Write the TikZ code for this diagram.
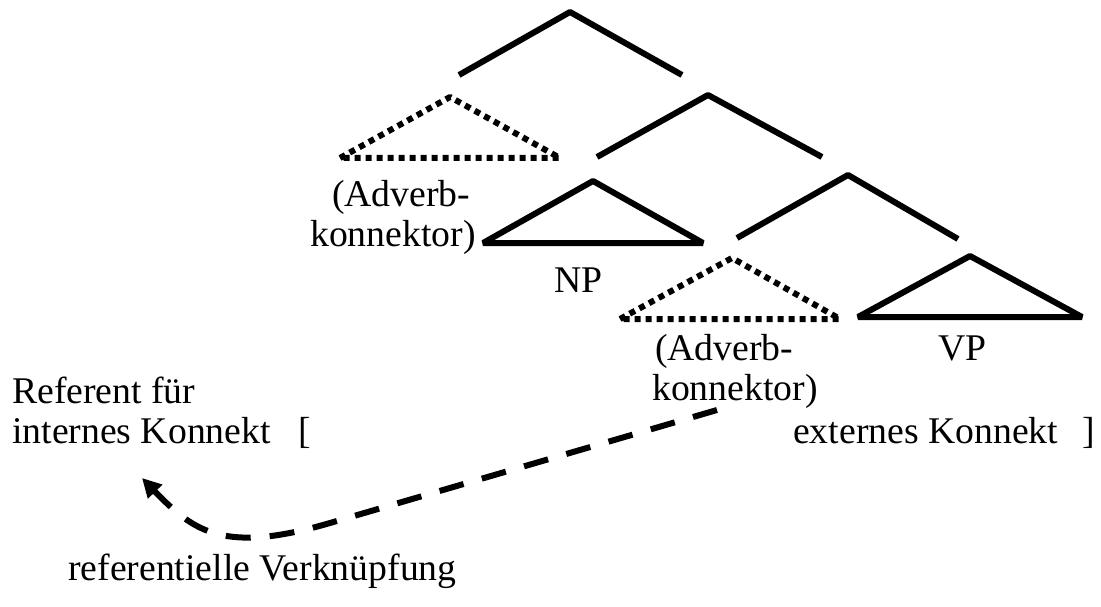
\documentclass[tikz,border=0pt]{standalone}
\usepackage{fontspec}
\setmainfont{Liberation Serif}
\usetikzlibrary{arrows.meta}

\begin{document}
\begin{tikzpicture}[x=1pt,y=-1pt,
  branch/.style={line width=6pt, line join=bevel},
  dotbranch/.style={line width=6pt, dash pattern=on 6pt off 5pt, line join=bevel},
  lbl/.style={anchor=base west, inner sep=0pt, font=\fontsize{37.7}{45}\selectfont},
  link/.style={line width=6pt, dash pattern=on 25pt off 19pt,
    -{Triangle[length=19pt,width=19pt]}}]
\useasboundingbox (0,0) rectangle (1101,607);

% upper branchings of the tree
\draw[branch] (459,75) -- (570,12) -- (682,75);
\draw[branch] (597,157) -- (708,95) -- (822,157);
\draw[branch] (737,238) -- (848,175) -- (958,239);

% optional adverb connectors (dotted)
\draw[dotbranch] (340,158) -- (450,97) -- (560,158) -- cycle;
\draw[dotbranch] (620,319) -- (732,258) -- (840,319) -- cycle;

% NP and VP triangles
\draw[branch] (483,243) -- (593,181) -- (703,243) -- cycle;
\draw[branch] (858,317) -- (970,256) -- (1082,317) -- cycle;

% labels
\node[lbl] (adv1) at (332,207) {(Adverb-};
\node[lbl] (kon1) at (310,246) {konnektor)};
\node[lbl] (np) at (554,292) {NP};
\node[lbl] (adv2) at (655,360) {(Adverb-};
\node[lbl] (kon2) at (652,400) {konnektor)};
\node[lbl] (vp) at (938,360) {VP};
\node[lbl] (ref) at (12,403) {Referent für};
\node[lbl] (intern) at (12,443) {internes Konnekt};
\node[lbl] (lbr) at (298,443) {[};
\node[lbl] (extern) at (793,443) {externes Konnekt};
\node[lbl] (rbr) at (1082,443) {]};
\node[lbl] (verk) at (68,580) {referentielle Verknüpfung};

% referential link from the connector back to the referent
\coordinate (linkstart) at (717,410);
\coordinate (linkend) at (142,478);
\draw[link] (linkstart) -- (330,523)
  .. controls (224,554) and (194,532) .. (linkend);
\end{tikzpicture}
\end{document}
